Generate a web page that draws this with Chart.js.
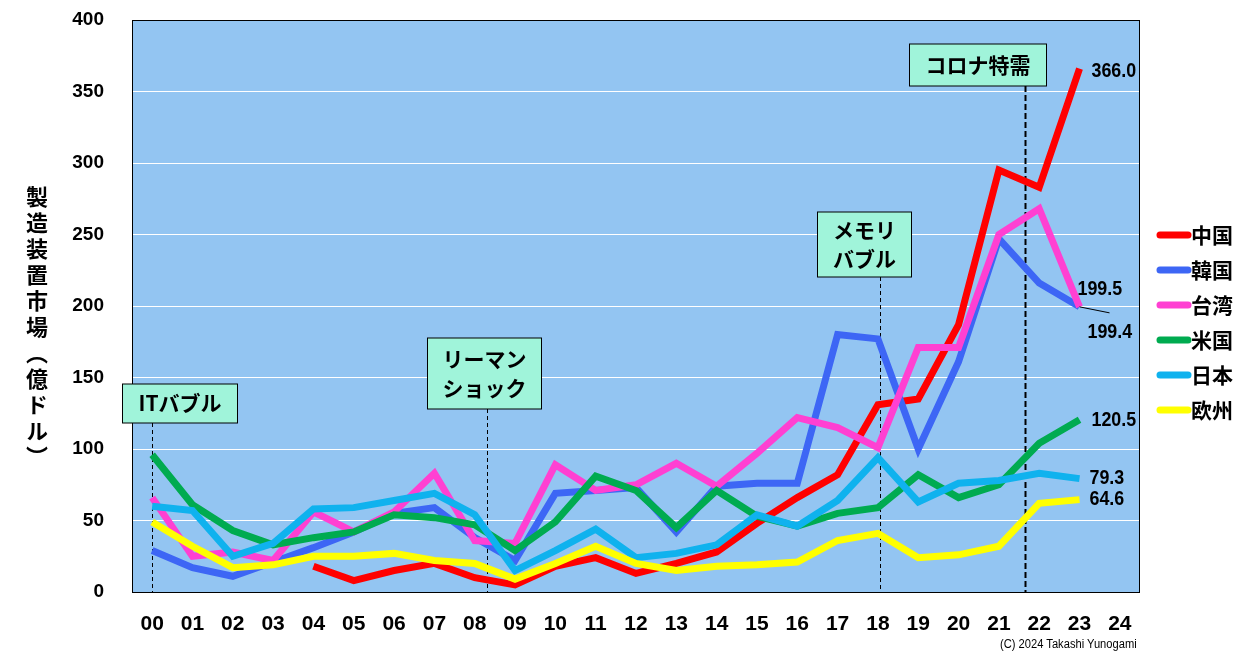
<!DOCTYPE html>
<html>
<head>
<meta charset="utf-8">
<script src="https://cdn.jsdelivr.net/npm/chart.js@4/dist/chart.umd.min.js"></script>
<style>
    html, body { margin: 0; padding: 0; background: #fff; }
    #wrap { position: relative; width: 1251px; height: 665px; }
    #yTitle {
        position: absolute; left: 24px; top: 186px;
        writing-mode: vertical-rl; text-orientation: upright;
        font-family: "Noto Sans CJK JP", sans-serif; font-weight: 700; font-size: 22px;
        line-height: 26px; letter-spacing: 4px; color: #000;
    }
    #credit {
        position: absolute; left: 1000px; top: 637px;
        font-family: "Liberation Sans", sans-serif; font-size: 12px; color: #000;
        transform: scaleX(0.93); transform-origin: left top; white-space: nowrap;
    }
</style>
</head>
<body>
<div id="wrap">
    <canvas id="chart" width="1251" height="665"></canvas>
    <div id="yTitle">製造装置市場（億ドル）</div>
    <div id="credit">(C) 2024 Takashi Yunogami</div>
</div>
<script>
const years = ['00','01','02','03','04','05','06','07','08','09','10','11','12','13','14','15','16','17','18','19','20','21','22','23','24'];
const seriesNames = ['中国', '韓国', '台湾', '米国', '日本', '欧州'];
const china  = [null, null, null, null, 18, 8, 15, 20, 10, 5, 18, 24, 13, 20, 28, 48, 66, 82, 131, 135, 187, 295, 283, 366.0, null];
const korea  = [29, 17, 11, 21, 31, 42, 55, 59, 38, 22, 69, 71, 73, 42, 74, 76, 76, 180, 177, 100, 161, 247, 216, 199.5, null];
const taiwan = [66, 25, 28, 22, 56, 42, 56, 83, 36, 34, 89, 71, 75, 90, 74, 97, 122, 115, 101, 171, 171, 250, 268, 199.4, null];
const usa    = [96, 61, 43, 33, 38, 42, 54, 52, 47, 29, 49, 81, 71, 45, 71, 53, 46, 55, 59, 82, 66, 75, 104, 120.5, null];
const japan  = [60, 57, 25, 34, 58, 59, 64, 69, 54, 15, 29, 44, 24, 27, 33, 54, 46, 64, 94, 63, 76, 78, 83, 79.3, null];
const europe = [49, 32, 17, 19, 25, 25, 27, 22, 20, 9, 20, 32, 20, 15, 18, 19, 21, 36, 41, 24, 26, 32, 62, 64.6, null];
const yTicks = [0, 50, 100, 150, 200, 250, 300, 350, 400];
// events: category position of the dashed line
const eventNames = [['ITバブル'], ['リーマン', 'ショック'], ['メモリ', 'バブル'], ['コロナ特需']];
const eventPos = [0, 8.3, 18.06, 21.65];

const colors = ['#ff0000', '#3d66f5', '#ff40d2', '#00ab50', '#0fb2ee', '#ffff00'];
const allSeries = [china, korea, taiwan, usa, japan, europe];

const numFont = '"Liberation Sans", Arial, sans-serif';
const jpFont = '"Noto Sans CJK JP", sans-serif';

// box geometry relative to the dashed line x (dx = left offset), top/bottom in px
const eventBoxes = [
    { dx: -30, w: 115, top: 384, bottom: 423, dash: [4, 3], lw: 1 },
    { dx: -60, w: 114, top: 338, bottom: 409, dash: [4, 3], lw: 1 },
    { dx: -63, w: 94, top: 212, bottom: 277, dash: [4, 3], lw: 1 },
    { dx: -116, w: 137, top: 44, bottom: 86, dash: [6, 3], lw: 2 }
];
// end value label offsets from last point
const endLabelOffsets = [[12, 3], [-2, -18], [8, 25], [12, 1], [10, 0], [10, 0]];

const plotBg = {
    id: 'plotBg',
    beforeDraw(chart) {
        const { ctx, chartArea: a } = chart;
        ctx.save();
        ctx.fillStyle = '#93c5f2';
        ctx.fillRect(a.left, a.top, a.right - a.left, a.bottom - a.top);
        ctx.restore();
    },
    beforeDatasetsDraw(chart) {
        const { ctx, chartArea: a, scales } = chart;
        ctx.save();
        ctx.strokeStyle = '#000';
        ctx.lineWidth = 1;
        ctx.strokeRect(a.left + 0.5, a.top + 0.5, a.right - a.left - 1, a.bottom - a.top);
        eventPos.forEach((p, i) => {
            const b = eventBoxes[i];
            const x = Math.round(scales.x.getPixelForValue(p)) + 0.5;
            ctx.setLineDash(b.dash);
            ctx.lineWidth = b.lw;
            ctx.beginPath();
            ctx.moveTo(x, b.bottom);
            ctx.lineTo(x, a.bottom);
            ctx.stroke();
        });
        ctx.restore();
    },
    afterDatasetsDraw(chart) {
        const { ctx, scales } = chart;
        ctx.save();
        // event boxes
        eventPos.forEach((p, i) => {
            const b = eventBoxes[i];
            const x = Math.round(scales.x.getPixelForValue(p)) + 0.5;
            const left = x + b.dx;
            ctx.fillStyle = '#a0f4da';
            ctx.fillRect(left, b.top, b.w, b.bottom - b.top);
            ctx.strokeStyle = '#000';
            ctx.lineWidth = 1;
            ctx.setLineDash([]);
            ctx.strokeRect(left, b.top, b.w, b.bottom - b.top);
            ctx.fillStyle = '#000';
            ctx.font = 'bold 21px ' + jpFont;
            ctx.textAlign = 'center';
            ctx.textBaseline = 'middle';
            const lines = eventNames[i];
            const mid = (b.top + b.bottom) / 2;
            lines.forEach((t, k) => {
                ctx.fillText(t, left + b.w / 2, mid + (k - (lines.length - 1) / 2) * 29);
            });
        });
        // end labels (narrow)
        ctx.font = 'bold 21px ' + numFont;
        ctx.textAlign = 'left';
        ctx.textBaseline = 'middle';
        allSeries.forEach((s, i) => {
            const last = 23;
            const x = scales.x.getPixelForValue(last);
            const y = scales.y.getPixelForValue(s[last]);
            const [ox, oy] = endLabelOffsets[i];
            ctx.save();
            ctx.translate(x + ox, y + oy);
            ctx.scale(0.85, 1);
            ctx.fillStyle = '#000';
            ctx.fillText(s[last].toFixed(1), 0, 0);
            ctx.restore();
            if (i === 2) {
                ctx.strokeStyle = '#000';
                ctx.lineWidth = 1;
                ctx.beginPath();
                ctx.moveTo(x, y);
                ctx.lineTo(x + 30, y + 6);
                ctx.stroke();
            }
        });
        // legend
        ctx.font = 'bold 21px ' + jpFont;
        seriesNames.forEach((n, i) => {
            const y = 235 + i * 35;
            ctx.strokeStyle = colors[i];
            ctx.lineWidth = 7;
            ctx.lineCap = 'round';
            ctx.beginPath();
            ctx.moveTo(1160, y);
            ctx.lineTo(1188, y);
            ctx.stroke();
            ctx.fillStyle = '#000';
            ctx.fillText(n, 1191, y);
        });
        ctx.restore();
    }
};

new Chart(document.getElementById('chart'), {
    type: 'line',
    data: {
        labels: years,
        datasets: allSeries.map((s, i) => ({
            label: seriesNames[i],
            data: s,
            borderColor: colors[i],
            backgroundColor: colors[i],
            borderWidth: 7,
            pointRadius: 0,
            tension: 0,
            spanGaps: false
        })).reverse()
    },
    options: {
        responsive: false,
        animation: false,
        layout: { padding: { left: 0, top: 20, right: 111, bottom: 0 } },
        plugins: {
            legend: { display: false },
            tooltip: { enabled: false }
        },
        scales: {
            x: {
                offset: true,
                grid: { display: false, drawTicks: false },
                border: { display: false },
                ticks: {
                    padding: 20,
                    color: '#000',
                    maxRotation: 0,
                    autoSkip: false,
                    font: { family: numFont, size: 21, weight: 'bold' }
                },
                afterFit(scale) {
                    scale.height = 73;
                    scale.paddingLeft = 0;
                    scale.paddingRight = 0;
                }
            },
            y: {
                min: 0,
                max: 400,
                afterBuildTicks(scale) { scale.ticks = yTicks.map(v => ({ value: v })); },
                grid: { color: '#ffffff', lineWidth: 1, drawTicks: false },
                border: { display: false },
                ticks: {
                    padding: 28,
                    color: '#000',
                    font: { family: numFont, size: 19, weight: 'bold' }
                },
                afterFit(scale) {
                    scale.width = 132;
                    scale.paddingTop = 0;
                    scale.paddingBottom = 0;
                }
            }
        }
    },
    plugins: [plotBg]
});
</script>
</body>
</html>
